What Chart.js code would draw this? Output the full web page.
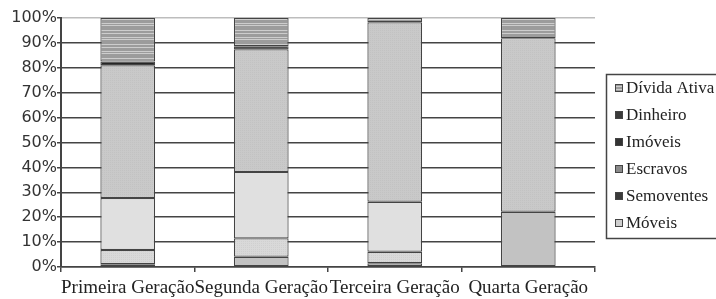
<!DOCTYPE html>
<html>
<head>
<meta charset="utf-8">
<script src="https://cdn.jsdelivr.net/npm/chart.js@4"></script>
<style>
  html, body { margin: 0; padding: 0; background: #fff; }
  #wrap { width: 716px; height: 299px; }
</style>
</head>
<body>
<div id="wrap"><canvas id="heranca"></canvas></div>
<script>
const categories = ["Primeira Geração", "Segunda Geração", "Terceira Geração", "Quarta Geração"];
const yTicks = [0, 10, 20, 30, 40, 50, 60, 70, 80, 90, 100];

// percent of each inventory, stacked bottom -> top
const moveis      = [1.1, 4.1, 1.5, 22.2];
const semoventes  = [5.7, 7.4, 4.6, null];
const escravos    = [20.9, 26.7, 20.1, null];
const imoveis     = [53.3, 49.2, 72.1, 69.7];
const dinheiro    = [1.5, 1.3, null, null];
const dividaAtiva = [17.5, 11.3, 1.7, 8.1];

function makePattern(w, h, draw) {
  const c = document.createElement("canvas");
  c.width = w;
  c.height = h;
  draw(c.getContext("2d"));
  return c.getContext("2d").createPattern(c, "repeat");
}

const striped = makePattern(4, 14, (g) => {
  g.fillStyle = "#9c9c9c";
  g.fillRect(0, 0, 4, 14);
  g.fillStyle = "#cdcdcd";
  [2, 5, 9, 11].forEach((r) => g.fillRect(0, r, 4, 1));
});

const dotted = makePattern(2, 2, (g) => {
  g.fillStyle = "#c9c9c9";
  g.fillRect(0, 0, 2, 2);
  g.fillStyle = "#c2c2c2";
  g.fillRect(0, 0, 1, 1);
});

const dottedLight = makePattern(2, 2, (g) => {
  g.fillStyle = "#d9d9d9";
  g.fillRect(0, 0, 2, 2);
  g.fillStyle = "#d0d0d0";
  g.fillRect(1, 1, 1, 1);
});

const series = [
  { label: "Móveis", data: moveis, color: "#c2c2c2", icon: "#cfcfcf" },
  { label: "Semoventes", data: semoventes, color: dottedLight, icon: "#3a3a3a" },
  { label: "Escravos", data: escravos, color: "#e0e0e0", icon: "#8a8a8a" },
  { label: "Imóveis", data: imoveis, color: dotted, icon: "#333333" },
  { label: "Dinheiro", data: dinheiro, color: "#262626", icon: "#3a3a3a" },
  { label: "Dívida Ativa", data: dividaAtiva, color: striped, icon: striped }
];

// legend in a box on the right, listed top series first
const legendBox = {
  id: "legendBox",
  afterDraw(chart) {
    const ctx = chart.ctx;
    ctx.save();
    ctx.strokeStyle = "#444";
    ctx.lineWidth = 1.5;
    ctx.strokeRect(606.5, 74.5, 140, 164);
    ctx.font = "17px 'Liberation Serif'";
    ctx.textBaseline = "middle";
    const items = series.slice().reverse();
    items.forEach((s, i) => {
      const y = 88 + i * 27;
      ctx.fillStyle = s.icon;
      ctx.fillRect(615, y - 4, 8, 8);
      ctx.strokeStyle = "#444";
      ctx.lineWidth = 1;
      ctx.strokeRect(615.5, y - 3.5, 7, 7);
      ctx.fillStyle = "#222";
      ctx.fillText(s.label, 626, y + 1);
    });
    ctx.restore();
  }
};

Chart.defaults.font.family = "'DejaVu Sans'";
Chart.defaults.color = "#333";

new Chart(document.getElementById("heranca"), {
  type: "bar",
  data: {
    labels: categories,
    datasets: series.map((s) => ({
      label: s.label,
      data: s.data,
      backgroundColor: s.color,
      borderColor: "#444",
      borderWidth: 1.2,
      borderSkipped: false,
      barPercentage: 0.41,
      categoryPercentage: 1
    }))
  },
  options: {
    responsive: true,
    maintainAspectRatio: false,
    animation: false,
    layout: { padding: { top: 18, right: 121, bottom: 0, left: 0 } },
    plugins: {
      legend: { display: false },
      tooltip: { enabled: false }
    },
    scales: {
      x: {
        stacked: true,
        afterFit: (scale) => { scale.height = 32; },
        grid: {
          offset: true,
          drawOnChartArea: true,
          color: (ctx) => (ctx.index === categories.length ? "#bdbdbd" : "rgba(0,0,0,0)"),
          tickColor: "#444",
          tickLength: 5,
          lineWidth: 1.5
        },
        border: { color: "#444", width: 1.5 },
        ticks: {
          padding: 5,
          color: "#222",
          maxRotation: 0,
          minRotation: 0,
          autoSkip: false,
          font: { family: "'Liberation Serif'", size: 19 }
        }
      },
      y: {
        stacked: true,
        min: 0,
        max: 100,
        afterFit: (scale) => { scale.width = 61; },
        afterBuildTicks: (scale) => {
          scale.ticks = yTicks.map((v) => ({ value: v }));
        },
        grid: {
          color: (ctx) => (ctx.tick && ctx.tick.value === 100 ? "#bdbdbd" : "#444"),
          tickColor: "#444",
          tickLength: 4,
          lineWidth: 1.5
        },
        border: { color: "#444", width: 2 },
        ticks: {
          padding: 0,
          color: "#333",
          font: { size: 16 },
          callback: (v) => v + "%"
        }
      }
    }
  },
  plugins: [legendBox]
});
</script>
</body>
</html>
